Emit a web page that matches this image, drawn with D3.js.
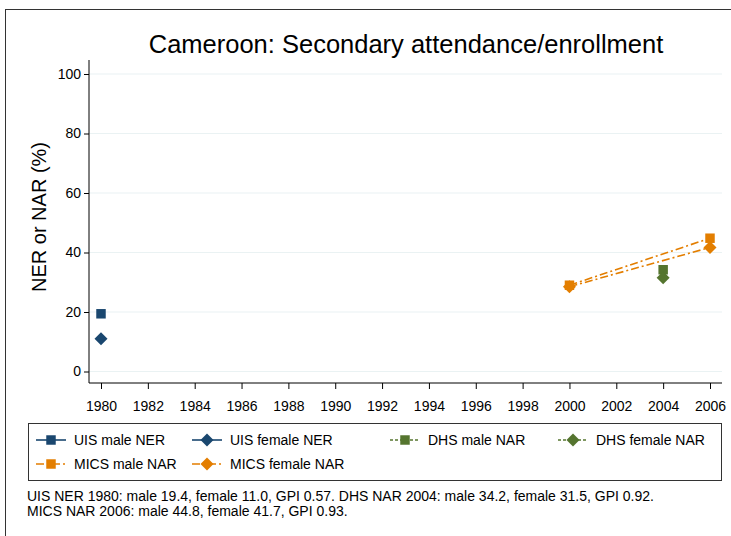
<!DOCTYPE html>
<html>
<head>
<meta charset="utf-8">
<script src="https://cdn.jsdelivr.net/npm/d3@7"></script>
<style>
  body { margin: 0; background: #fff; }
  text { font-family: "Liberation Sans", Arial, sans-serif; fill: #000; }
</style>
</head>
<body>
<div class="container"></div>
<script>
// data
var years = [1980, 1982, 1984, 1986, 1988, 1990, 1992, 1994, 1996, 1998, 2000, 2002, 2004, 2006];
var yTicks = [0, 20, 40, 60, 80, 100];

var uisMale = [[1980, 19.4]];
var uisFemale = [[1980, 11.0]];
var dhsMale = [[2004, 34.2]];
var dhsFemale = [[2004, 31.5]];
var micsMale = [[2000, 29.0], [2006, 44.8]];
var micsFemale = [[2000, 28.5], [2006, 41.7]];

var legendLabels = ["UIS male NER", "UIS female NER", "DHS male NAR", "DHS female NAR", "MICS male NAR", "MICS female NAR"];
var noteLines = [
  "UIS NER 1980: male 19.4, female 11.0, GPI 0.57. DHS NAR 2004: male 34.2, female 31.5, GPI 0.92.",
  "MICS NAR 2006: male 44.8, female 41.7, GPI 0.93."
];

var navy = "#1a476f", green = "#55752f", orange = "#e37e00";

var series = [
  {data: uisMale, color: navy, shape: "square", dash: null},
  {data: uisFemale, color: navy, shape: "diamond", dash: null},
  {data: dhsMale, color: green, shape: "square", dash: "3,2"},
  {data: dhsFemale, color: green, shape: "diamond", dash: "3,2"},
  {data: micsMale, color: orange, shape: "square", dash: "8,3,2,3"},
  {data: micsFemale, color: orange, shape: "diamond", dash: "8,3,2,3"}
];

var W = 731, H = 536;
var margin = {top: 60, right: 9, bottom: 153, left: 89},
    width = W - margin.left - margin.right,
    height = H - margin.top - margin.bottom;

var svg = d3.select("div.container").append("svg")
    .attr("width", W)
    .attr("height", H);

// outer frame (runs off the page at right/bottom)
svg.append("rect")
    .attr("x", 5.5).attr("y", 9.5)
    .attr("width", W + 20).attr("height", H + 20)
    .attr("fill", "none").attr("stroke", "#333").attr("stroke-width", 1);

var x_scale = d3.scaleLinear().domain([1980, 2006]).range([101 - margin.left, 710 - margin.left]);
var y_scale = d3.scaleLinear().domain([0, 100]).range([371.5 - margin.top, 74 - margin.top]);

var g = svg.append("g").attr("transform", "translate(" + margin.left + "," + margin.top + ")");

// grid
g.selectAll(".grid").data(yTicks).enter().append("line")
    .attr("x1", 0).attr("x2", width)
    .attr("y1", function(d) { return y_scale(d); })
    .attr("y2", function(d) { return y_scale(d); })
    .attr("stroke", "#eaf2f3").attr("stroke-width", 1.2);

// axes
var yAxis = g.append("g")
    .call(d3.axisLeft(y_scale).tickValues(yTicks).tickSize(5).tickPadding(3));
var xAxis = g.append("g")
    .attr("transform", "translate(0," + height + ")")
    .call(d3.axisBottom(x_scale).tickValues(years).tickFormat(d3.format("d")).tickSize(6).tickPadding(12));

[yAxis, xAxis].forEach(function(a) {
  a.select(".domain").remove();
  a.selectAll("text").style("font-size", "14px");
  a.selectAll("line").attr("stroke", "#000");
});
g.append("line").attr("x1", 0).attr("x2", 0).attr("y1", 0).attr("y2", height).attr("stroke", "#000");
g.append("line").attr("x1", 0).attr("x2", width).attr("y1", height).attr("y2", height).attr("stroke", "#000");

// lines
var line = d3.line()
    .x(function(d) { return x_scale(d[0]); })
    .y(function(d) { return y_scale(d[1]); });

series.forEach(function(s) {
  if (s.data.length > 1) {
    g.append("path")
        .datum(s.data)
        .attr("fill", "none")
        .attr("stroke", s.color)
        .attr("stroke-width", 1.6)
        .attr("stroke-dasharray", s.dash)
        .attr("d", line);
  }
});

var symSquare = d3.symbol().type(d3.symbolSquare).size(90);

function marker(sel, shape) {
  if (shape === "square") return sel.attr("d", symSquare());
  return sel.attr("d", "M0,-6.5L6.5,0L0,6.5L-6.5,0Z");
}

series.forEach(function(s) {
  g.selectAll(null).data(s.data).enter().append("path")
      .attr("transform", function(d) { return "translate(" + x_scale(d[0]) + "," + y_scale(d[1]) + ")"; })
      .attr("fill", s.color)
      .call(marker, s.shape);
});

// title
svg.append("text")
    .attr("x", 406).attr("y", 53)
    .attr("text-anchor", "middle")
    .style("font-size", "25.5px")
    .text("Cameroon: Secondary attendance/enrollment");

// y label
svg.append("text")
    .attr("transform", "translate(46,217) rotate(-90)")
    .attr("text-anchor", "middle")
    .style("font-size", "20px")
    .text("NER or NAR (%)");

// legend
var leg = svg.append("g");
leg.append("rect")
    .attr("x", 28.5).attr("y", 423.5).attr("width", 693).attr("height", 57)
    .attr("fill", "#fff").attr("stroke", "#333");

var colX = [36, 192, 390, 558];
legendLabels.forEach(function(lbl, i) {
  var s = series[i];
  var cx = colX[i % 4], cy = i < 4 ? 440 : 464;
  leg.append("line")
      .attr("x1", cx).attr("x2", cx + 30)
      .attr("y1", cy).attr("y2", cy)
      .attr("stroke", s.color).attr("stroke-width", 1.6)
      .attr("stroke-dasharray", s.dash);
  leg.append("path")
      .attr("transform", "translate(" + (cx + 15) + "," + cy + ")")
      .attr("fill", s.color)
      .call(marker, s.shape);
  leg.append("text")
      .attr("x", cx + 38).attr("y", cy + 5)
      .style("font-size", "14px")
      .text(lbl);
});

// note
noteLines.forEach(function(t, i) {
  svg.append("text")
      .attr("x", 27).attr("y", 501 + i * 14.5)
      .style("font-size", "14px")
      .text(t);
});
</script>
</body>
</html>
